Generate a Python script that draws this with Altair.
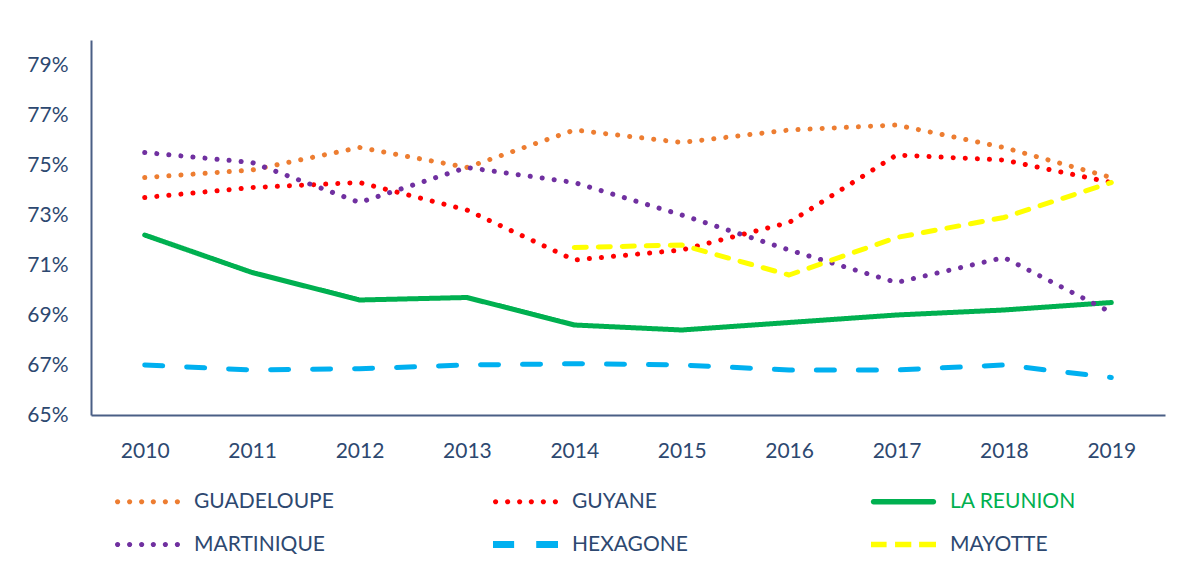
import altair as alt
import pandas as pd

years = ["2010", "2011", "2012", "2013", "2014", "2015", "2016", "2017", "2018", "2019"]
series_names = ["GUADELOUPE", "GUYANE", "LA REUNION", "MARTINIQUE", "HEXAGONE", "MAYOTTE"]
guadeloupe = [74.5, 74.8, 75.7, 74.9, 76.4, 75.9, 76.4, 76.6, 75.7, 74.5]
guyane = [73.7, 74.1, 74.3, 73.2, 71.2, 71.6, 72.7, 75.4, 75.2, 74.3]
la_reunion = [72.2, 70.7, 69.6, 69.7, 68.6, 68.4, 68.7, 69.0, 69.2, 69.5]
martinique = [75.5, 75.1, 73.5, 74.9, 74.3, 73.0, 71.6, 70.3, 71.3, 69.1]
hexagone = [67.0, 66.8, 66.85, 67.0, 67.05, 67.0, 66.8, 66.8, 67.0, 66.5]
mayotte = [None, None, None, None, 71.7, 71.8, 70.6, 72.1, 72.9, 74.3]
y_ticks = [65, 67, 69, 71, 73, 75, 77, 79]

colors = ["#ED7D31", "#FF0000", "#00B050", "#7030A0", "#00B0F0", "#FFFF00"]
dashes = [[0.1, 12], [0.1, 12], [1, 0], [0.1, 12], [18, 24], [12, 12]]
widths = [5, 5, 5, 5, 7, 5]


# legend glyphs (unit-square symbol paths: dotted, solid, long dash, short dash)
def circle(cx, r):
    return f"M{cx - r},0a{r},{r} 0 1,0 {2 * r},0a{r},{r} 0 1,0 {-2 * r},0"


DOTS = "".join(circle(c, 0.08) for c in [-0.92, -0.55, -0.18, 0.18, 0.55, 0.92])
SOLID = "M-0.92,-0.085H0.92A0.085,0.085 0 0,1 0.92,0.085H-0.92A0.085,0.085 0 0,1 -0.92,-0.085Z"
LONGDASH = "M-1,-0.11H-0.35V0.11H-1ZM0.33,-0.11H1V0.11H0.33Z"
SHORTDASH = "M-1,-0.085H-0.52V0.085H-1ZM-0.26,-0.085H0.24V0.085H-0.26ZM0.48,-0.085H1V0.085H0.48Z"
glyphs = [DOTS, DOTS, SOLID, DOTS, LONGDASH, SHORTDASH]

rows = []
for name, vals in zip(series_names, [guadeloupe, guyane, la_reunion, martinique, hexagone, mayotte]):
    for yr, v in zip(years, vals):
        if v is not None:
            rows.append({"year": yr, "serie": name, "value": v})
df = pd.DataFrame(rows)

NAVY = "#2D4870"
FONT = "Lato"


def make_legend():
    return alt.Legend(title=None, orient="none", legendX=24, legendY=429,
                      columns=3, direction="horizontal", gridAlign="all",
                      columnPadding=158, rowPadding=-22,
                      symbolSize=4225, symbolStrokeWidth=0, labelOffset=14,
                      labelFontSize=21, labelFont=FONT, labelLimit=300,
                      labelColor=alt.ExprRef("datum.label === 'LA REUNION' ? '#00B050' : '" + NAVY + "'"))


x_enc = alt.X("year:O", scale=alt.Scale(type="point", padding=0.5),
              axis=alt.Axis(title=None, labelAngle=0, ticks=False, labelPadding=25,
                            labelFontSize=21, labelColor=NAVY, labelFont=FONT,
                            domainColor="#4A5F85", domainWidth=2, grid=False))
y_enc = alt.Y("value:Q", scale=alt.Scale(domain=[65, 80], nice=False, zero=False),
              axis=alt.Axis(title=None, values=y_ticks, labelExpr="datum.value + '%'",
                            ticks=False, labelPadding=23, labelFontSize=21, labelColor=NAVY,
                            labelFont=FONT, domainColor="#4A5F85", domainWidth=2, grid=False))

lines = alt.Chart(df).mark_line(strokeJoin="round", strokeCap="round").encode(
    x=x_enc,
    y=y_enc,
    color=alt.Color("serie:N", scale=alt.Scale(domain=series_names, range=colors), legend=None),
    strokeDash=alt.StrokeDash("serie:N", scale=alt.Scale(domain=series_names, range=dashes), legend=None),
    strokeWidth=alt.StrokeWidth("serie:N", scale=alt.Scale(domain=series_names, range=widths), legend=None),
)

legend_layer = alt.Chart(df).mark_point(filled=True, strokeWidth=0, opacity=0).encode(
    x=x_enc,
    y=y_enc,
    color=alt.Color("serie:N", scale=alt.Scale(domain=series_names, range=colors), legend=make_legend()),
    shape=alt.Shape("serie:N", scale=alt.Scale(domain=series_names, range=glyphs), legend=make_legend()),
)

chart = alt.layer(lines, legend_layer).resolve_scale(
    color="independent", shape="independent"
).resolve_legend(color="independent", shape="independent").properties(
    width=1074, height=375,
    autosize=alt.AutoSizeParams(type="none"),
    padding={"left": 83, "top": 32, "right": 6, "bottom": 150},
    background="white",
).configure_view(stroke=None).configure_legend(symbolOpacity=1)

chart.save("out.html", embed_options={"renderer": "svg", "actions": False})
